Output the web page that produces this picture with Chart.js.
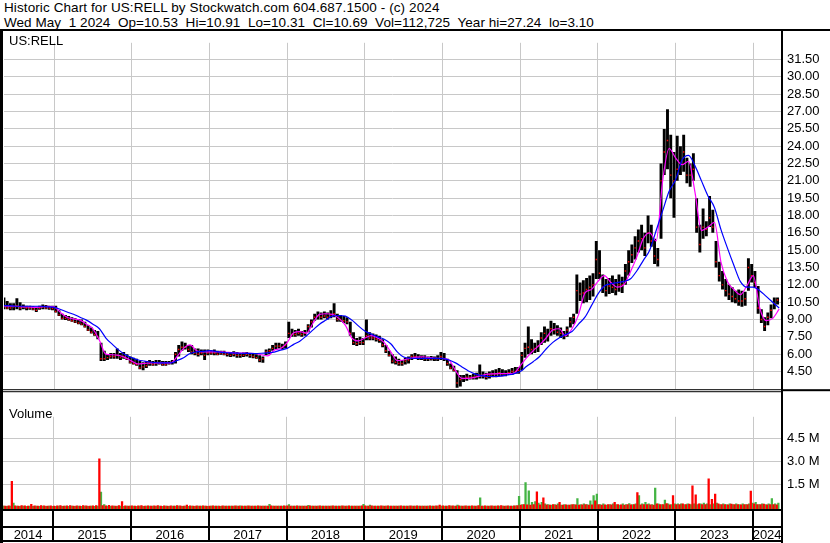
<!DOCTYPE html>
<html>
<head>
<meta charset="utf-8">
<script src="https://cdn.jsdelivr.net/npm/chart.js@4.4.1/dist/chart.umd.min.js"></script>
<style>
  body { margin: 0; background: #fff; }
  #wrap { position: relative; width: 830px; height: 543px; overflow: hidden; font-family: "Liberation Sans", Arial, sans-serif; }
  .txt { position: absolute; font-size: 13px; line-height: 15px; color: #000; white-space: pre; }
  .head { font-size: 13.5px; }
  canvas { position: absolute; left: 0; }
</style>
</head>
<body>
<div id="wrap">
  <div class="txt head" style="left:4px; top:0px; letter-spacing:0.1px;">Historic Chart for US:RELL by Stockwatch.com 604.687.1500 - (c) 2024</div>
  <div class="txt head" style="left:4px; top:15px; letter-spacing:0.05px;">Wed May  1 2024  Op=10.53  Hi=10.91  Lo=10.31  Cl=10.69  Vol=112,725  Year hi=27.24  lo=3.10</div>
  <canvas id="price" width="830" height="374" style="top:29px"></canvas>
  <canvas id="volume" width="830" height="140" style="top:403px"></canvas>
  <div class="txt" style="left:9px; top:33px;">US:RELL</div>
  <div class="txt" style="left:9px; top:406px;">Volume</div>
</div>
<script>
// half-month periods, May 2014 .. Apr 2024 (one row per year)
const high = [
  10.9,10.6,10.4,10.4,10.85,10.5,10.3,10.2,10.2,10.15,10.1,10.2,10.3,10.25,10.2,10.2,
  10.2,9.8,9.5,9.4,9.3,9.2,9.1,9.05,9.0,8.8,8.5,8.3,8.1,8.0,7.0,6.3,6.0,6.1,6.1,6.5,6.1,6.2,6.0,5.8,
  5.7,5.6,5.4,5.3,5.4,5.5,5.4,5.5,5.5,5.4,5.4,5.4,5.5,6.2,6.8,7.1,7.0,6.8,6.8,6.5,6.5,6.4,6.4,6.4,
  6.35,6.4,6.3,6.3,6.3,6.2,6.2,6.25,6.2,6.1,6.15,6.2,6.1,6.05,6.0,5.9,5.8,6.4,6.5,6.8,7.0,7.0,6.9,7.1,
  8.8,8.2,8.1,8.2,8.0,8.1,8.6,9.0,9.5,9.7,9.6,9.7,9.6,9.8,10.4,9.5,9.4,9.3,9.2,8.8,7.9,7.4,7.5,7.4,
  9.0,7.9,7.8,7.7,7.6,7.3,6.8,6.3,6.0,5.8,5.6,5.5,5.7,5.8,6.0,6.1,6.0,5.9,5.9,5.8,5.85,5.8,5.9,6.2,
  6.1,5.6,5.2,5.0,4.6,4.2,4.2,4.3,4.2,4.3,4.4,5.1,4.5,4.4,4.5,4.6,4.7,4.8,4.7,4.6,4.7,4.8,4.9,4.9,
  6.2,7.0,8.4,7.3,7.0,7.2,7.9,8.4,8.2,8.9,8.7,8.5,8.3,8.0,8.4,9.2,9.5,12.9,12.2,12.4,12.6,12.8,13.0,15.8,
  15.0,12.9,12.5,12.6,12.8,12.5,12.9,12.7,13.8,15.0,15.5,16.2,16.8,17.2,16.5,18.0,17.2,16.0,15.2,22.5,25.5,27.2,25.0,23.5,
  24.9,24.0,25.0,23.0,22.5,23.4,19.5,17.2,18.6,17.5,19.7,18.5,15.8,14.0,13.2,12.5,12.0,11.8,11.5,11.6,11.5,11.4,14.3,13.8,
  13.2,11.9,9.9,9.2,9.6,10.3,10.9,10.91
];
const low = [
  9.9,9.9,9.8,9.8,9.9,9.8,9.9,9.8,9.85,9.8,9.65,9.85,9.9,9.9,9.85,9.8,
  9.6,9.3,9.0,8.95,8.9,8.8,8.7,8.6,8.5,8.3,8.0,7.8,7.6,7.3,5.4,5.4,5.5,5.6,5.6,5.6,5.5,5.6,5.5,5.2,
  5.1,5.0,4.7,4.6,4.8,5.0,5.0,5.0,5.1,5.0,5.0,5.1,5.1,5.2,5.8,6.3,6.4,6.2,6.0,5.9,5.8,5.9,5.5,5.9,
  5.95,5.9,5.9,5.95,5.9,5.8,5.75,5.8,5.7,5.7,5.75,5.8,5.7,5.65,5.6,5.3,5.25,5.9,6.0,6.3,6.4,6.5,6.4,6.5,
  7.4,7.5,7.5,7.6,7.5,7.6,7.9,8.3,8.9,9.0,9.0,9.1,9.0,9.1,9.2,8.8,8.8,8.7,8.6,7.6,6.8,6.7,6.8,6.8,
  7.2,7.2,7.2,7.1,7.0,6.6,6.1,5.8,5.2,5.1,5.0,5.0,5.1,5.2,5.5,5.6,5.5,5.5,5.4,5.4,5.45,5.4,5.4,5.5,
  5.4,5.0,4.7,4.5,3.1,3.2,3.6,3.7,3.8,3.8,3.8,3.9,3.9,3.8,3.9,4.0,4.0,4.1,4.1,4.1,4.2,4.2,4.3,4.3,
  4.6,5.7,6.0,6.0,6.1,6.2,6.8,7.0,7.1,7.6,7.7,7.6,7.4,7.3,7.5,8.3,8.6,9.5,10.6,10.4,10.5,10.7,11.0,12.5,
  12.5,11.3,11.0,11.2,11.3,11.1,11.4,11.3,12.0,12.8,13.9,14.2,14.8,15.0,14.5,15.6,15.3,13.8,13.6,16.0,21.5,22.0,19.5,17.8,
  21.0,21.5,21.8,20.8,20.5,21.0,16.5,14.8,16.0,16.2,17.0,16.5,13.5,12.3,11.6,11.0,10.7,10.5,10.4,10.2,10.1,10.2,11.5,12.2,
  11.8,9.5,8.7,8.0,8.5,9.1,9.9,10.31
];
const close = [
  10.1,10.0,10.0,10.1,10.2,10.0,10.1,10.0,10.0,9.9,9.8,10.0,10.1,10.0,10.0,9.95,
  9.7,9.4,9.1,9.1,9.0,8.9,8.8,8.7,8.6,8.4,8.1,7.9,7.7,7.5,5.6,5.6,5.7,5.8,5.8,5.9,5.7,5.8,5.6,5.3,
  5.2,5.1,4.8,4.9,5.0,5.2,5.1,5.2,5.2,5.1,5.1,5.2,5.3,6.0,6.4,6.6,6.6,6.4,6.2,6.1,6.0,6.1,5.9,6.1,
  6.1,6.1,6.0,6.1,6.0,6.0,5.9,6.0,5.9,5.9,5.9,6.0,5.9,5.8,5.7,5.5,5.6,6.2,6.3,6.5,6.7,6.7,6.6,6.8,
  7.8,7.7,7.7,7.8,7.7,7.8,8.4,8.8,9.2,9.3,9.2,9.3,9.2,9.4,9.5,9.0,9.0,8.9,8.8,7.8,7.0,6.9,7.0,7.0,
  7.6,7.4,7.4,7.3,7.2,6.8,6.3,5.9,5.4,5.3,5.2,5.2,5.4,5.5,5.8,5.8,5.7,5.7,5.6,5.6,5.6,5.6,5.6,5.8,
  5.6,5.2,4.8,4.6,3.5,3.8,3.9,4.0,4.0,4.0,4.1,4.2,4.1,4.0,4.2,4.3,4.3,4.4,4.3,4.3,4.4,4.5,4.5,4.6,
  5.9,6.5,6.6,6.4,6.5,6.7,7.4,7.8,7.6,8.2,8.1,7.9,7.8,7.6,8.1,8.8,9.2,11.5,11.2,11.3,11.6,11.8,12.0,14.2,
  13.0,11.8,11.5,11.9,11.8,11.6,12.0,12.0,13.2,14.0,14.6,15.2,15.8,16.0,15.2,16.5,15.8,14.5,14.2,21.0,23.5,24.5,21.5,21.0,
  22.0,22.5,23.5,21.5,21.5,22.0,17.0,15.5,17.0,16.8,17.8,17.0,14.0,12.8,12.0,11.5,11.2,11.0,10.8,10.6,10.6,10.8,13.5,12.8,
  12.2,10.0,9.0,8.4,9.2,9.8,10.4,10.69
];
// volume in millions, largest down-day (red) and up-day (green) per half month
const volDown = [
  0.08,0.06,0.07,1.69,0.07,0.06,0.08,0.07,0.06,0.17,0.07,0.06,0.08,0.07,0.06,0.07,
  0.06,0.07,0.08,0.06,0.07,0.08,0.06,0.07,0.06,0.08,0.07,0.06,0.07,0.08,3.17,0.08,0.07,0.10,0.07,0.06,0.08,0.35,0.07,0.06,
  0.07,0.06,0.07,0.08,0.06,0.07,0.06,0.07,0.08,0.06,0.07,0.06,0.07,0.06,0.08,0.07,0.06,0.12,0.07,0.06,0.07,0.06,0.07,0.06,
  0.06,0.07,0.06,0.05,0.07,0.06,0.05,0.06,0.07,0.06,0.05,0.06,0.07,0.06,0.05,0.07,0.06,0.05,0.06,0.07,0.06,0.05,0.06,0.07,
  0.07,0.06,0.05,0.07,0.06,0.05,0.06,0.07,0.06,0.05,0.07,0.06,0.05,0.06,0.07,0.06,0.05,0.07,0.06,0.07,0.06,0.05,0.06,0.07,
  0.07,0.06,0.07,0.06,0.05,0.07,0.06,0.07,0.06,0.05,0.06,0.07,0.06,0.05,0.07,0.06,0.07,0.06,0.05,0.06,0.07,0.06,0.07,0.12,
  0.07,0.06,0.08,0.07,0.06,0.07,0.06,0.07,0.06,0.07,0.06,0.08,0.06,0.07,0.06,0.07,0.06,0.07,0.08,0.06,0.07,0.06,0.07,0.08,
  0.12,0.15,0.14,0.12,0.15,1.0,0.14,0.6,0.13,0.12,0.15,0.12,0.3,0.12,0.14,0.12,0.15,0.13,0.12,0.14,0.15,0.12,0.14,0.4,
  0.15,0.12,0.14,0.16,0.13,0.3,0.15,0.14,0.12,0.16,0.14,0.15,0.95,0.13,0.16,0.15,0.14,0.12,0.2,0.15,0.16,0.22,0.14,0.75,
  0.16,0.15,0.2,0.15,0.18,1.4,0.8,0.2,0.16,0.15,1.86,0.5,0.85,0.2,0.16,0.15,0.14,0.18,0.15,0.16,0.14,0.15,0.16,1.05,
  0.2,0.16,0.15,0.18,0.14,0.16,0.15,0.14
];
const volUp = [
  0.05,0.04,0.05,0.25,0.05,0.04,0.05,0.04,0.05,0.04,0.05,0.04,0.05,0.04,0.05,0.04,
  0.04,0.05,0.04,0.05,0.04,0.05,0.04,0.05,0.04,0.05,0.04,0.05,0.04,0.05,0.98,0.15,0.05,0.04,0.05,0.04,0.05,0.04,0.06,0.05,
  0.05,0.04,0.05,0.04,0.05,0.06,0.05,0.04,0.05,0.04,0.05,0.04,0.05,0.06,0.05,0.04,0.05,0.04,0.05,0.04,0.05,0.06,0.05,0.04,
  0.05,0.06,0.05,0.04,0.06,0.05,0.06,0.05,0.06,0.07,0.05,0.06,0.05,0.06,0.05,0.06,0.05,0.06,0.17,0.05,0.06,0.05,0.06,0.05,
  0.15,0.05,0.06,0.05,0.06,0.05,0.1,0.05,0.06,0.05,0.06,0.05,0.06,0.05,0.06,0.05,0.06,0.05,0.06,0.05,0.06,0.05,0.06,0.17,
  0.05,0.12,0.05,0.06,0.05,0.06,0.05,0.06,0.05,0.06,0.05,0.06,0.05,0.06,0.05,0.06,0.05,0.06,0.05,0.06,0.05,0.06,0.05,0.06,
  0.05,0.06,0.05,0.06,0.12,0.06,0.05,0.06,0.05,0.06,0.05,0.6,0.05,0.06,0.05,0.06,0.05,0.06,0.05,0.06,0.05,0.06,0.07,0.7,
  0.15,1.6,1.07,0.3,0.35,0.25,0.3,0.2,0.15,0.12,0.15,0.2,0.12,0.15,0.12,0.14,0.15,0.55,0.15,0.2,0.15,0.4,0.75,0.85,
  0.15,0.2,0.12,0.15,0.2,0.15,0.12,0.2,0.15,0.22,0.15,0.2,0.75,0.2,0.3,0.2,0.15,1.25,0.2,0.15,0.45,0.2,0.15,0.2,
  0.2,0.2,0.15,0.2,0.15,0.2,0.15,0.2,0.25,0.2,0.15,0.2,0.25,0.15,0.2,0.15,0.2,0.15,0.2,0.15,0.2,0.15,0.2,0.25,
  0.3,0.15,0.2,0.15,0.2,0.55,0.2,0.25
];
// moving averages, one value per month start, May 2014 .. May 2024
const avgShort = [
  10.2,10.15,10.15,10.1,10.1,10.05,10.1,10.15,
  10.1,9.6,9.2,9.05,8.95,8.6,8.2,7.2,6.0,5.95,5.9,5.7,
  5.4,5.15,5.2,5.24,5.24,5.24,5.24,5.8,6.5,6.8,6.3,6.2,
  6.2,6.2,6.2,6.15,6.1,6.1,6.08,6.06,5.95,5.85,6.35,6.5,
  7.0,7.85,7.95,7.83,8.7,9.45,9.5,9.45,9.1,8.5,7.4,7.15,
  7.4,7.6,7.4,7.0,6.2,5.45,5.5,5.65,5.75,5.78,5.7,5.64,
  5.64,5.5,4.6,3.9,3.9,4.0,4.15,4.28,4.3,4.32,4.33,4.35,
  5.0,5.7,6.3,6.8,7.4,8.1,8.2,7.6,8.2,9.4,11.3,11.6,
  12.3,12.8,12.2,11.8,12.0,13.1,14.4,16.0,16.5,15.8,21.0,23.8,
  23.0,22.4,22.7,20.0,16.7,17.0,17.4,14.0,12.3,11.6,11.15,11.9,
  12.8,10.0,8.9,9.1,9.9
];
const avgLong = [
  10.2,10.2,10.15,10.15,10.15,10.15,10.15,10.1,
  10.05,9.87,9.65,9.46,9.2,8.95,8.6,8.2,7.4,6.85,6.35,5.95,
  5.7,5.5,5.4,5.3,5.25,5.24,5.24,5.45,5.7,6.06,6.2,6.25,
  6.3,6.25,6.15,6.12,6.1,6.08,6.07,6.06,6.08,6.12,6.18,6.35,
  6.5,6.85,7.15,7.6,8.1,8.6,8.95,9.3,9.35,9.3,8.95,8.45,
  8.0,7.75,7.5,7.3,6.9,6.2,5.75,5.65,5.64,5.64,5.64,5.64,
  5.62,5.5,5.25,4.9,4.55,4.3,4.15,4.07,4.07,4.1,4.2,4.3,
  4.5,4.95,5.35,5.8,6.45,7.0,7.4,7.7,7.96,8.6,9.2,10.2,
  11.2,11.9,12.1,12.2,12.3,12.5,13.2,14.1,15.0,16.7,18.4,20.1,
  21.1,22.8,23.2,22.3,21.0,19.7,18.7,16.8,15.2,13.7,12.3,11.8,
  11.8,11.5,11.0,10.5,10.0
];
const years = [2014, 2015, 2016, 2017, 2018, 2019, 2020, 2021, 2022, 2023, 2024];
const priceTicks = [4.5, 6, 7.5, 9, 10.5, 12, 13.5, 15, 16.5, 18, 19.5, 21, 22.5, 24, 25.5, 27, 28.5, 30, 31.5];
const volTicks = [1.5, 3.0, 4.5];

const FONT = '"Liberation Sans", Arial, sans-serif';
const X_MIN = 2014.355, X_MAX = 2024.357;
const GRID = '#c8c8c8';

function halfMonth(i) { return 2014 + 4 / 12 + (i + 0.5) / 24; }
function monthStart(k) { return 2014 + (4 + k) / 12; }

function makeX() {
  return {
    type: 'linear', min: X_MIN, max: X_MAX, offset: false,
    afterBuildTicks: s => { s.ticks = years.slice(1).map(v => ({ value: v })); },
    ticks: { display: false },
    grid: { color: GRID, drawTicks: false, offset: false },
    border: { display: false },
    afterFit: s => { s.height = 0; }
  };
}

const priceFrame = {
  id: 'priceFrame',
  afterDraw(chart) {
    const { ctx, chartArea: a, width, height } = chart;
    ctx.save();
    ctx.fillStyle = '#000';
    ctx.fillRect(0, 0, width, 2);
    ctx.fillRect(0, 0, 3, height);
    ctx.fillRect(a.right, 0, 2, height);
    ctx.fillRect(0, a.bottom, a.right, 1);
    ctx.fillRect(0, a.bottom + 2, a.right, 1);
    ctx.fillRect(a.right, a.bottom, width - a.right, 2);
    ctx.restore();
  }
};

const volFrame = {
  id: 'volFrame',
  afterDraw(chart) {
    const { ctx, chartArea: a, height } = chart;
    const x = chart.scales.x;
    ctx.save();
    ctx.fillStyle = '#000';
    ctx.fillRect(0, 0, 3, height);
    ctx.fillRect(a.right, 0, 2, height);
    ctx.fillRect(0, a.bottom, a.right, 2);
    ctx.fillRect(0, a.bottom + 17, a.right, 2);
    ctx.fillRect(0, a.bottom + 31, a.right, 2);
    ctx.font = '13px ' + FONT;
    ctx.textAlign = 'center';
    ctx.textBaseline = 'alphabetic';
    years.forEach(y => {
      const l = Math.max(x.getPixelForValue(y), a.left);
      const r = Math.min(x.getPixelForValue(y + 1), a.right);
      if (y > years[0]) ctx.fillRect(Math.round(l) - 1, a.bottom + 2, 2, 29);
      ctx.fillText(String(y), (l + r) / 2, a.bottom + 30);
    });
    ctx.restore();
  }
};

new Chart(document.getElementById('price'), {
  type: 'bar',
  data: {
    datasets: [
      { type: 'line', data: avgLong.map((v, k) => ({ x: monthStart(k), y: v })),
        borderColor: '#0000ff', borderWidth: 1.2, pointRadius: 0, cubicInterpolationMode: 'monotone', order: 0 },
      { type: 'line', data: avgShort.map((v, k) => ({ x: monthStart(k), y: v })),
        borderColor: '#ff00ff', borderWidth: 1.2, pointRadius: 0, cubicInterpolationMode: 'monotone', order: 1 },
      { type: 'line', data: close.map((v, i) => ({ x: halfMonth(i), y: v })), showLine: false,
        pointStyle: 'rect', pointRadius: 1.0, pointBorderWidth: 0, pointBackgroundColor: '#ff0000', order: 2 },
      { type: 'bar', data: high.map((v, i) => ({ x: halfMonth(i), y: [low[i], v] })),
        backgroundColor: '#000', barPercentage: 1, categoryPercentage: 0.9, order: 3 }
    ]
  },
  options: {
    responsive: false, animation: false, devicePixelRatio: 1,
    layout: { padding: { left: 3, top: 2, bottom: 3, right: 0 } },
    plugins: { legend: { display: false }, tooltip: { enabled: false } },
    scales: {
      x: makeX(),
      y: {
        position: 'right', min: 2.97, max: 32.95,
        afterBuildTicks: s => { s.ticks = priceTicks.map(v => ({ value: v })); },
        ticks: { callback: v => v.toFixed(2), font: { family: FONT, size: 13 }, color: '#000', padding: 6 },
        grid: { color: GRID, drawTicks: false },
        border: { display: false },
        afterFit: s => { s.width = 49; }
      }
    }
  },
  plugins: [priceFrame]
});

new Chart(document.getElementById('volume'), {
  type: 'bar',
  data: {
    datasets: [
      { data: volDown.map((v, i) => ({ x: halfMonth(i), y: v })), backgroundColor: '#ff0000',
        base: -0.138, barPercentage: 1, categoryPercentage: 1 },
      { data: volUp.map((v, i) => ({ x: halfMonth(i), y: v })), backgroundColor: '#44b444',
        base: -0.138, barPercentage: 1, categoryPercentage: 1 }
    ]
  },
  options: {
    responsive: false, animation: false, devicePixelRatio: 1,
    layout: { padding: { left: 3, top: 0, bottom: 34, right: 0 } },
    plugins: { legend: { display: false }, tooltip: { enabled: false } },
    scales: {
      x: makeX(),
      y: {
        position: 'right', min: -0.138, max: 5.954,
        afterBuildTicks: s => { s.ticks = volTicks.map(v => ({ value: v })); },
        ticks: { callback: v => v.toFixed(1) + ' M', font: { family: FONT, size: 13 }, color: '#000', padding: 6 },
        grid: { color: GRID, drawTicks: false },
        border: { display: false },
        afterFit: s => { s.width = 49; }
      }
    }
  },
  plugins: [volFrame]
});
</script>
</body>
</html>
